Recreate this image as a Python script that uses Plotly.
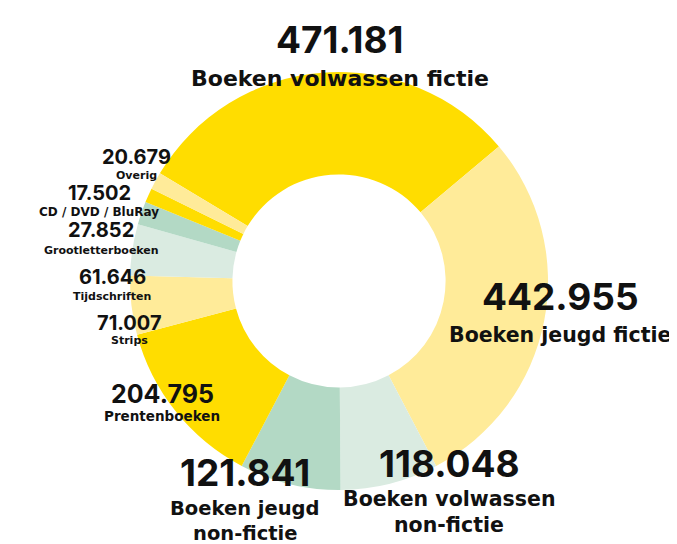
import plotly.graph_objects as go

categories = ["Boeken volwassen fictie", "Boeken jeugd fictie", "Boeken volwassen non-fictie",
              "Boeken jeugd non-fictie", "Prentenboeken", "Strips", "Tijdschriften",
              "Grootletterboeken", "CD / DVD / BluRay", "Overig"]
values = [471181, 442955, 118048, 121841, 204795, 71007, 61646, 27852, 17502, 20679]
label_lines = [["Boeken volwassen fictie"], ["Boeken jeugd fictie"], ["Boeken volwassen", "non-fictie"],
               ["Boeken jeugd", "non-fictie"], ["Prentenboeken"], ["Strips"], ["Tijdschriften"],
               ["Grootletterboeken"], ["CD / DVD / BluRay"], ["Overig"]]
colors = ["#FFDD00", "#FFEB99", "#DAEBE1", "#B3D9C5", "#FFDD00", "#FFEB99", "#DAEBE1",
          "#B3D9C5", "#FFDD00", "#FFEB99"]

W, H = 677, 544
NUM_FONT = "Inter"
LAB_FONT = "DejaVu Sans"

# label layout: center x px, number center y px, number size, label size, label line center ys
label_pos = [
    (332, 31, 37, 22, [70]),
    (552, 288, 37, 20.5, [327]),
    (441, 455, 37, 20.5, [491, 517]),
    (237, 464, 37, 19.5, [500, 525]),
    (154, 386, 25, 13.5, [408]),
    (121, 315, 20, 11, [332]),
    (104, 269, 20, 11, [288]),
    (93, 222, 20, 11, [242]),
    (91, 185, 20, 12, [204]),
    (128, 149, 20, 11, [167]),
]

def fmt(v):
    return f"{v:,}".replace(",", ".")

fig = go.Figure(go.Pie(
    labels=categories, values=values, hole=0.51, sort=False, direction="clockwise",
    rotation=-59, marker=dict(colors=colors, line=dict(width=0)),
    textinfo="none", hoverinfo="label+value", showlegend=False,
    domain=dict(x=[(331 - 209) / W, (331 + 209) / W], y=[1 - (273 + 209) / H, 1 - (273 - 209) / H]),
))

ann = []
for v, lines, (cx, cy, ns, ls, lys) in zip(values, label_lines, label_pos):
    ann.append(dict(text=f"<b>{fmt(v)}</b>", x=cx / W, y=1 - cy / H, xref="paper", yref="paper",
                    xanchor="center", yanchor="middle", showarrow=False,
                    font=dict(family=NUM_FONT, size=ns, color="#111111", weight=900)))
    for line, ly in zip(lines, lys):
        ann.append(dict(text=f"<b>{line}</b>", x=cx / W, y=1 - ly / H, xref="paper", yref="paper",
                        xanchor="center", yanchor="middle", showarrow=False,
                        font=dict(family=LAB_FONT, size=ls, color="#111111", weight="bold")))

fig.update_layout(width=W, height=H, margin=dict(l=0, r=0, t=0, b=0),
                  paper_bgcolor="white", plot_bgcolor="white", annotations=ann)
fig.write_html("out.html")
